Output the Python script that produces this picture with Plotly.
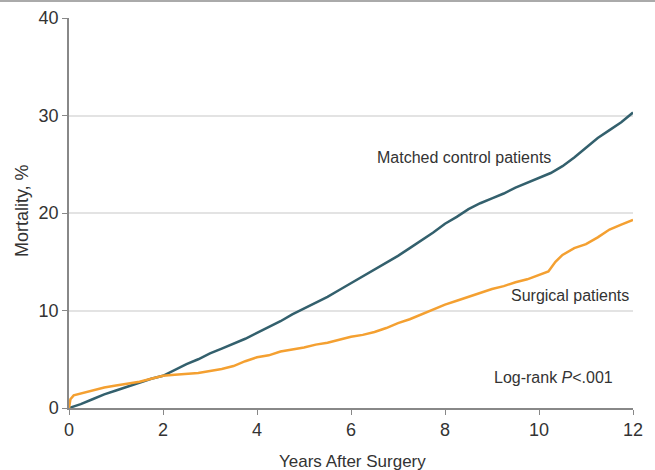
import plotly.graph_objects as go

# Years after surgery and mortality (%)
control_years = [0, 0.25, 0.5, 0.75, 1, 1.25, 1.5, 1.75, 2, 2.25, 2.5, 2.75, 3, 3.25, 3.5, 3.75, 4,
                 4.25, 4.5, 4.75, 5, 5.25, 5.5, 5.75, 6, 6.25, 6.5, 6.75, 7, 7.25, 7.5, 7.75, 8,
                 8.25, 8.5, 8.75, 9, 9.25, 9.5, 9.75, 10, 10.25, 10.5, 10.75, 11, 11.25, 11.5, 11.75, 12]
control_mort = [0, 0.4, 0.9, 1.4, 1.8, 2.2, 2.6, 3.0, 3.3, 3.9, 4.5, 5.0, 5.6, 6.1, 6.6, 7.1, 7.7,
                8.3, 8.9, 9.6, 10.2, 10.8, 11.4, 12.1, 12.8, 13.5, 14.2, 14.9, 15.6, 16.4, 17.2, 18.0, 18.9,
                19.6, 20.4, 21.0, 21.5, 22.0, 22.6, 23.1, 23.6, 24.1, 24.8, 25.7, 26.7, 27.7, 28.5, 29.3, 30.3]

surgical_years = [0, 0.03, 0.1, 0.25, 0.5, 0.75, 1, 1.25, 1.5, 1.75, 2, 2.25, 2.5, 2.75, 3, 3.25, 3.5,
                  3.75, 4, 4.25, 4.5, 4.75, 5, 5.25, 5.5, 5.75, 6, 6.25, 6.5, 6.75, 7, 7.25, 7.5, 7.75,
                  8, 8.25, 8.5, 8.75, 9, 9.25, 9.5, 9.75, 10, 10.2, 10.35, 10.5, 10.75, 11, 11.25, 11.5,
                  11.75, 12]
surgical_mort = [0, 0.9, 1.3, 1.5, 1.8, 2.1, 2.3, 2.5, 2.7, 3.0, 3.3, 3.4, 3.5, 3.6, 3.8, 4.0, 4.3,
                 4.8, 5.2, 5.4, 5.8, 6.0, 6.2, 6.5, 6.7, 7.0, 7.3, 7.5, 7.8, 8.2, 8.7, 9.1, 9.6, 10.1,
                 10.6, 11.0, 11.4, 11.8, 12.2, 12.5, 12.9, 13.2, 13.6, 14.0, 15.0, 15.7, 16.4, 16.8, 17.5, 18.3,
                 18.8, 19.3]

x_ticks = [0, 2, 4, 6, 8, 10, 12]
y_ticks = [0, 10, 20, 30, 40]

FONT = "Liberation Sans Narrow, Arial Narrow, sans-serif"
TEAL = "#33606d"
ORANGE = "#f4a031"
TXT = "#333333"

fig = go.Figure()
fig.add_trace(go.Scatter(x=control_years, y=control_mort, mode="lines",
                         line=dict(color=TEAL, width=2.5), showlegend=False))
fig.add_trace(go.Scatter(x=surgical_years, y=surgical_mort, mode="lines",
                         line=dict(color=ORANGE, width=2.5), showlegend=False))

fig.update_layout(
    width=655, height=470,
    margin=dict(l=69, r=22, t=18, b=62),
    paper_bgcolor="white", plot_bgcolor="white",
    font=dict(family=FONT, size=18, color=TXT),
    xaxis=dict(range=[0, 12], tickvals=x_ticks, showgrid=False, zeroline=False, automargin=False,
               showline=True, linecolor="#888888", linewidth=1.5,
               ticks="outside", ticklen=5, tickcolor="#888888", tickfont=dict(size=18)),
    yaxis=dict(range=[0, 40], tickvals=y_ticks, showgrid=True, gridcolor="#e3e3e3", gridwidth=1.5,
               zeroline=False, automargin=False, showline=True, linecolor="#888888", linewidth=1.5,
               ticks="outside", ticklen=5, tickcolor="#888888", tickfont=dict(size=18)),
    annotations=[
        dict(x=8.40, y=25.7, text="Matched control patients", showarrow=False,
             font=dict(size=16, color=TXT)),
        dict(x=10.65, y=11.5, text="Surgical patients", showarrow=False,
             font=dict(size=16, color=TXT)),
        dict(x=10.3, y=3.08, text="Log-rank <i>P</i><.001", showarrow=False,
             font=dict(size=16, color=TXT)),
        dict(x=0.502, y=-0.136, xref="paper", yref="paper", text="Years After Surgery",
             xanchor="center", yanchor="middle",
             showarrow=False, font=dict(size=17, color=TXT)),
        dict(x=-0.0833, y=0.505, xref="paper", yref="paper", text="Mortality, %",
             xanchor="center", yanchor="middle",
             showarrow=False, textangle=-90, font=dict(size=18, color=TXT)),
    ],
    shapes=[dict(type="line", xref="paper", yref="paper",
                 x0=-69/564, x1=1+22/564, y0=407/390, y1=407/390,
                 line=dict(color="#aaaaaa", width=2))],
)

fig.write_html("out.html", config={"displayModeBar": False},
               post_script="document.body.style.margin='0';")
